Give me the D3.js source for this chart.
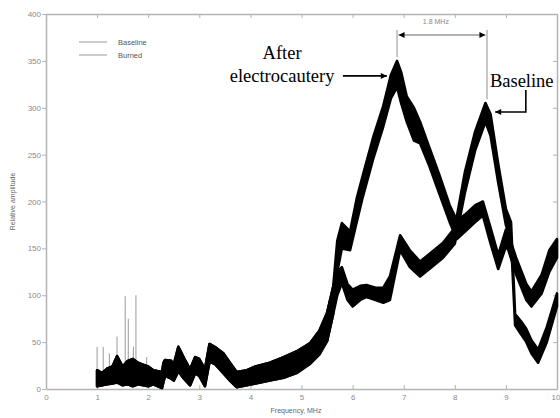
<!DOCTYPE html>
<html>
<head>
<meta charset="utf-8">
<script src="https://cdn.jsdelivr.net/npm/d3@7"></script>
<style>
  body { margin: 0; background: #fff; }
  svg { display: block; }
</style>
</head>
<body>
<div id="chart"></div>
<script>
// --- data: [frequency MHz, band low, band high] ---
const sharedLow = [
  [1.0, 3, 20], [1.1, 4, 17], [1.2, 5, 22], [1.3, 6, 24], [1.39, 7, 35],
  [1.5, 4, 24], [1.6, 5, 30], [1.7, 3, 32], [1.8, 5, 28], [1.9, 4, 26],
  [2.0, 3, 24], [2.1, 5, 20], [2.27, 1, 18], [2.3, 8, 28], [2.33, 14, 31],
  [2.45, 11, 30], [2.5, 9, 26], [2.59, 19, 45], [2.7, 11, 33], [2.82, 4, 21],
  [2.92, 17, 34], [3.0, 14, 32], [3.11, 3, 21], [3.2, 29, 48], [3.3, 27, 45],
  [3.47, 17, 38], [3.6, 9, 28], [3.73, 2, 18], [3.93, 4, 20], [4.1, 6, 24],
  [4.38, 9, 28], [4.65, 12, 34], [4.9, 17, 40], [5.17, 27, 49], [5.35, 37, 62],
  [5.5, 51, 81], [5.62, 80, 109]
];

const burnedTail = [
  [5.7, 125, 158], [5.79, 150, 177], [5.95, 148, 168], [6.08, 178, 203],
  [6.2, 205, 228], [6.4, 245, 268], [6.6, 280, 302], [6.75, 310, 335],
  [6.87, 322, 350], [6.95, 305, 338], [7.06, 285, 312], [7.2, 265, 300],
  [7.32, 262, 285], [7.5, 238, 258], [7.7, 208, 228], [7.9, 178, 196],
  [8.04, 160, 180], [8.2, 168, 186], [8.4, 178, 196], [8.55, 185, 200],
  [8.7, 155, 172], [8.85, 128, 143], [9.0, 152, 170], [9.05, 148, 165],
  [9.2, 122, 140], [9.4, 95, 112], [9.5, 88, 104], [9.7, 102, 122],
  [9.85, 125, 148], [10, 140, 160]
];

const baselineTail = [
  [5.7, 100, 125], [5.79, 113, 130], [5.9, 95, 112], [6.0, 88, 106],
  [6.15, 95, 110], [6.27, 98, 111], [6.45, 95, 108], [6.6, 92, 108],
  [6.73, 95, 120], [6.93, 148, 164], [7.12, 130, 148], [7.32, 120, 136],
  [7.55, 130, 146], [7.77, 140, 156], [8.0, 155, 172], [8.2, 210, 232],
  [8.4, 255, 275], [8.6, 285, 305], [8.7, 270, 293], [8.85, 220, 240],
  [9.0, 175, 192], [9.1, 160, 178], [9.18, 68, 80], [9.3, 58, 72],
  [9.4, 50, 64], [9.5, 38, 52], [9.63, 28, 42], [9.8, 50, 66], [10, 88, 102]
];

// thin grey spikes at low frequency: [frequency, peak]
const spikes = [
  [1.0, 45], [1.12, 45], [1.24, 38], [1.39, 56], [1.55, 99],
  [1.61, 75], [1.71, 45], [1.76, 100], [1.97, 34]
];

const xTicks = [0, 1, 2, 3, 4, 5, 6, 7, 8, 9, 10];
const yTicks = [0, 50, 100, 150, 200, 250, 300, 350, 400];
const legendLabels = ["Baseline", "Burned"];

const width = 560;
const height = 418;
const margin = { top: 14, right: 3, bottom: 29, left: 46 };

const svg = d3.select("#chart").append("svg")
  .attr("width", width)
  .attr("height", height);

const x = d3.scaleLinear().domain([0, 10]).range([margin.left, width - margin.right]);
const y = d3.scaleLinear().domain([0, 400]).range([height - margin.bottom, margin.top]);

const axisColor = "#b3b3b3";
const labelColor = "#8a8a8a";

function styleAxis(g) {
  g.select(".domain").attr("stroke", axisColor).attr("stroke-width", 1.5);
  g.selectAll(".tick line").attr("stroke", axisColor).attr("stroke-width", 1);
  g.selectAll(".tick text")
    .attr("fill", labelColor)
    .style("font-family", "Arial, 'Liberation Sans', sans-serif")
    .style("font-size", "8px");
}

// axes (box)
const xAxis = svg.append("g")
  .attr("transform", `translate(0,${y(0)})`)
  .call(d3.axisBottom(x).tickValues(xTicks).tickSizeInner(-4).tickSizeOuter(0).tickPadding(5))
  .call(styleAxis);
// last label sits at the right edge
xAxis.selectAll(".tick text")
  .filter(d => d === 10)
  .attr("text-anchor", "end")
  .attr("x", 3);

svg.append("g")
  .attr("transform", `translate(0,${y(400)})`)
  .call(d3.axisTop(x).tickValues(xTicks).tickSizeInner(-4).tickSizeOuter(0).tickFormat(""))
  .call(styleAxis);

svg.append("g")
  .attr("transform", `translate(${x(0)},0)`)
  .call(d3.axisLeft(y).tickValues(yTicks).tickSizeInner(4).tickSizeOuter(0).tickPadding(1))
  .call(styleAxis);

svg.append("g")
  .attr("transform", `translate(${x(10)},0)`)
  .call(d3.axisRight(y).tickValues(yTicks).tickSizeInner(-4).tickSizeOuter(0).tickFormat(""))
  .call(styleAxis);

// axis titles
svg.append("text")
  .attr("x", 296)
  .attr("y", 413)
  .attr("text-anchor", "middle")
  .attr("fill", "#666")
  .style("font-family", "Arial, 'Liberation Sans', sans-serif")
  .style("font-size", "7px")
  .text("Frequency, MHz");

svg.append("text")
  .attr("transform", `translate(15,${y(200)}) rotate(-90)`)
  .attr("text-anchor", "middle")
  .attr("fill", "#666")
  .style("font-family", "Arial, 'Liberation Sans', sans-serif")
  .style("font-size", "7px")
  .text("Relative amplitude");

// spikes
svg.append("g")
  .selectAll("line")
  .data(spikes)
  .join("line")
  .attr("x1", d => x(d[0]))
  .attr("x2", d => x(d[0]))
  .attr("y1", y(5))
  .attr("y2", d => y(d[1]))
  .attr("stroke", "#9a9a9a")
  .attr("stroke-width", 1);

// noisy traces drawn as bands
const band = d3.area()
  .x(d => x(d[0]))
  .y0(d => y(d[1]))
  .y1(d => y(d[2]))
  .curve(d3.curveLinear);

const series = [
  { name: "Baseline", values: sharedLow.concat(baselineTail) },
  { name: "Burned", values: sharedLow.concat(burnedTail) }
];

svg.append("g")
  .selectAll("path")
  .data(series)
  .join("path")
  .attr("d", d => band(d.values))
  .attr("fill", "#000")
  .attr("stroke", "#000")
  .attr("stroke-width", 2.6)
  .attr("stroke-linejoin", "round");

// legend
const legend = svg.append("g")
  .style("font-family", "Arial, 'Liberation Sans', sans-serif")
  .style("font-size", "7.5px");

legendLabels.forEach((label, i) => {
  const ly = 42 + i * 13;
  legend.append("line")
    .attr("x1", 79).attr("x2", 107)
    .attr("y1", ly).attr("y2", ly)
    .attr("stroke", "#999").attr("stroke-width", 1);
  legend.append("text")
    .attr("x", 118).attr("y", ly + 2.5)
    .attr("fill", "#555")
    .text(label);
});

// annotations
svg.append("defs").append("marker")
  .attr("id", "head")
  .attr("viewBox", "0 0 10 10")
  .attr("refX", 10).attr("refY", 5)
  .attr("markerWidth", 8).attr("markerHeight", 6)
  .attr("markerUnits", "userSpaceOnUse")
  .attr("orient", "auto-start-reverse")
  .append("path")
  .attr("d", "M0,0 L10,5 L0,10 z")
  .attr("fill", "#000");

const serif = "'Liberation Serif', 'Times New Roman', serif";

svg.append("text")
  .attr("x", x(4.62)).attr("y", y(352))
  .attr("text-anchor", "middle")
  .style("font-family", serif).style("font-size", "18.5px")
  .text("After");
svg.append("text")
  .attr("x", x(4.62)).attr("y", y(327.5))
  .attr("text-anchor", "middle")
  .style("font-family", serif).style("font-size", "18.5px")
  .text("electrocautery");
svg.append("line")
  .attr("x1", x(5.81)).attr("x2", x(6.67))
  .attr("y1", y(334)).attr("y2", y(334))
  .attr("stroke", "#000").attr("stroke-width", 1.6)
  .attr("marker-end", "url(#head)");

svg.append("text")
  .attr("x", x(9.31)).attr("y", y(322))
  .attr("text-anchor", "middle")
  .style("font-family", serif).style("font-size", "18.5px")
  .text("Baseline");
svg.append("path")
  .attr("d", `M${x(9.39)},${y(319)} V${y(295.5)} H${x(8.79)}`)
  .attr("fill", "none")
  .attr("stroke", "#000").attr("stroke-width", 1.6)
  .attr("marker-end", "url(#head)");

// 1.8 MHz bracket
svg.append("line")
  .attr("x1", x(6.87)).attr("x2", x(6.87))
  .attr("y1", y(383)).attr("y2", y(354))
  .attr("stroke", "#c8c8c8").attr("stroke-width", 2);
svg.append("line")
  .attr("x1", x(8.63)).attr("x2", x(8.63))
  .attr("y1", y(383)).attr("y2", y(309))
  .attr("stroke", "#c8c8c8").attr("stroke-width", 2);
svg.append("line")
  .attr("x1", x(6.9)).attr("x2", x(8.6))
  .attr("y1", y(377.6)).attr("y2", y(377.6))
  .attr("stroke", "#666").attr("stroke-width", 1)
  .attr("marker-start", "url(#head)")
  .attr("marker-end", "url(#head)");
svg.append("text")
  .attr("x", x(7.63)).attr("y", y(389))
  .attr("text-anchor", "middle")
  .attr("fill", "#888")
  .style("font-family", "Arial, 'Liberation Sans', sans-serif")
  .style("font-size", "7px")
  .text("1.8 MHz");
</script>
</body>
</html>
